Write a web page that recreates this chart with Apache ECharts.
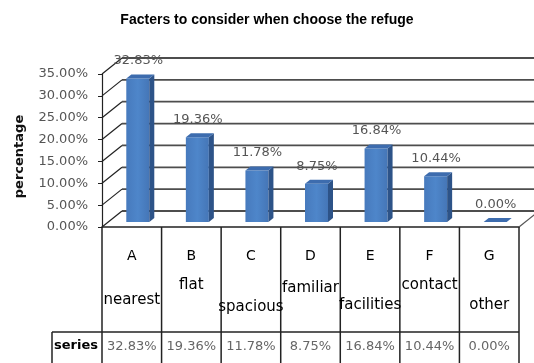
<!DOCTYPE html>
<html>
<head>
<meta charset="utf-8">
<script src="https://cdn.jsdelivr.net/npm/echarts@6/dist/echarts.min.js"></script>
<style>
html,body{margin:0;padding:0;background:#fff}
#main{width:534px;height:363px}
</style>
</head>
<body>
<div id="main"></div>
<script>
// data
var letters = ['A', 'B', 'C', 'D', 'E', 'F', 'G'];
var words = ['nearest', 'flat', 'spacious', 'familiar', 'facilities', 'contact', 'other'];
var values = [32.83, 19.36, 11.78, 8.75, 16.84, 10.44, 0.00];
var yTicks = [0, 5, 10, 15, 20, 25, 30, 35];
var rowName = 'series';

// layout of the fake 3d
var depth = [20, -16];      // floor depth
var barOff = [6, -5];       // front face of the bars
var barDepth = [5, -4];
var barW = 23;
var wordDrop = [73, 58, 80, 61, 78, 58, 78];   // second line of the category cells
var font = '"Liberation Sans", Arial, sans-serif';
var wide = '"DejaVu Sans", Verdana, sans-serif';

var myChart = echarts.init(document.getElementById('main'));

function pct(v) {
	return v.toFixed(2) + '%';
}

// back wall + slanted ticks
function renderWall(params, api) {
	var cs = params.coordSys;
	var y = api.coord([0, api.value(1)])[1];
	var x0 = cs.x;
	var bx = x0 + depth[0], by = y + depth[1];
	return {
		type: 'group',
		children: [{
			type: 'line',
			shape: { x1: x0, y1: y, x2: bx, y2: by },
			style: { stroke: '#222', lineWidth: 1.2 }
		}, {
			type: 'line',
			shape: { x1: bx, y1: by, x2: 540, y2: by },
			style: { stroke: '#4d4d4d', lineWidth: 1.8 }
		}]
	};
}

// bars and table cells
function renderBar(params, api) {
	var i = api.value(0);
	var v = api.value(1);
	var base = api.coord([i, 0]);
	var top = api.coord([i, v]);
	var cx = base[0];
	var x0 = cx + barOff[0] - barW / 2, x1 = x0 + barW;
	var yb = base[1] + barOff[1], yt = top[1] + barOff[1];
	var dx = barDepth[0], dy = barDepth[1];
	var kids = [];
	if (yb - yt > 0.5) {
		kids.push({
			type: 'rect',
			shape: { x: x0, y: yt, width: barW, height: yb - yt },
			style: { fill: new echarts.graphic.LinearGradient(0, 0, 1, 0, [
				{ offset: 0, color: '#477abd' }, { offset: 0.5, color: '#4e86ca' }, { offset: 1, color: '#4576b7' }]) }
		});
		kids.push({
			type: 'polygon',
			shape: { points: [[x1, yt], [x1 + dx, yt + dy], [x1 + dx, yb + dy], [x1, yb]] },
			style: { fill: '#2d5388' }
		});
	}
	kids.push({
		type: 'polygon',
		shape: { points: [[x0, yt], [x0 + dx, yt + dy], [x1 + dx, yt + dy], [x1, yt]] },
		style: { fill: '#3d6cae' }
	});
	// value label
	kids.push({
		type: 'text',
		x: cx + barOff[0] + dx / 2 - 2, y: yt + dy - 7,
		style: { text: pct(v), fill: '#555', font: '13px ' + wide, align: 'center', verticalAlign: 'bottom' }
	});
	// table: category cell
	kids.push({
		type: 'text',
		x: cx, y: base[1] + 29,
		style: { text: letters[i], fill: '#000', font: '14px ' + wide, align: 'center', verticalAlign: 'middle' }
	});
	kids.push({
		type: 'text',
		x: cx, y: base[1] + wordDrop[i],
		style: { text: words[i], fill: '#000', font: '15px ' + wide, align: 'center', verticalAlign: 'middle' }
	});
	// table: value row
	kids.push({
		type: 'text',
		x: cx, y: base[1] + 120,
		style: { text: pct(v), fill: '#666', font: '13px ' + wide, align: 'center', verticalAlign: 'middle' }
	});
	return { type: 'group', children: kids };
}

// table lines, floor edge and the row header
function renderFrame(params, api) {
	var cs = params.coordSys;
	var yf = cs.y + cs.height;
	var xr = cs.x + cs.width;
	var rowTop = yf + 105;
	var band = api.size([1, 0])[0];
	var line = { stroke: '#222', lineWidth: 1.5 };
	var kids = [{
		type: 'line',
		shape: { x1: xr, y1: yf, x2: xr + depth[0], y2: yf + depth[1] },
		style: { stroke: '#555', lineWidth: 1.2 }
	}, {
		type: 'line',
		shape: { x1: cs.x - 50, y1: rowTop, x2: xr, y2: rowTop },
		style: line
	}, {
		type: 'line',
		shape: { x1: cs.x - 50, y1: rowTop, x2: cs.x - 50, y2: rowTop + 40 },
		style: line
	}, {
		type: 'text',
		x: cs.x - 26, y: yf + 119,
		style: { text: rowName, fill: '#000', font: 'bold 13px ' + wide, align: 'center', verticalAlign: 'middle' }
	}];
	for (var k = 0; k <= letters.length; k++) {
		var x = api.coord([k, 0])[0] - band / 2;
		kids.push({
			type: 'line',
			shape: { x1: x, y1: yf, x2: x, y2: yf + 140 },
			style: line
		});
	}
	return { type: 'group', children: kids };
}

var option = {
	animation: false,
	title: {
		text: 'Facters to consider when choose the refuge',
		left: 'center',
		top: 8,
		textStyle: { fontSize: 14, fontWeight: 'bold', color: '#000', fontFamily: font }
	},
	grid: { left: 102, right: 15, top: 74, bottom: 136 },
	xAxis: {
		type: 'category',
		data: letters,
		axisLine: { lineStyle: { color: '#222', width: 1.5 } },
		axisTick: { show: false },
		axisLabel: { show: false },
		splitLine: { show: false }
	},
	yAxis: {
		type: 'value',
		min: 0,
		max: 35,
		interval: 5,
		name: 'percentage',
		nameLocation: 'middle',
		nameRotate: 90,
		nameGap: 76,
		nameTextStyle: { fontSize: 13, fontWeight: 'bold', color: '#111', fontFamily: wide, padding: [0, 12, 0, 0] },
		axisLine: { show: true, lineStyle: { color: '#222', width: 1.2 } },
		axisTick: { show: true, length: 4, lineStyle: { color: '#222' } },
		axisLabel: { margin: 14, fontSize: 13, color: '#555', fontFamily: wide, formatter: pct },
		splitLine: { show: false }
	},
	series: [{
		type: 'custom',
		z: 1,
		renderItem: renderWall,
		data: yTicks.map(function(t) { return [0, t]; })
	}, {
		type: 'custom',
		z: 2,
		renderItem: renderFrame,
		data: [[0, 0]]
	}, {
		type: 'custom',
		z: 3,
		renderItem: renderBar,
		data: values.map(function(v, i) { return [i, v]; })
	}]
};

myChart.setOption(option);
</script>
</body>
</html>
